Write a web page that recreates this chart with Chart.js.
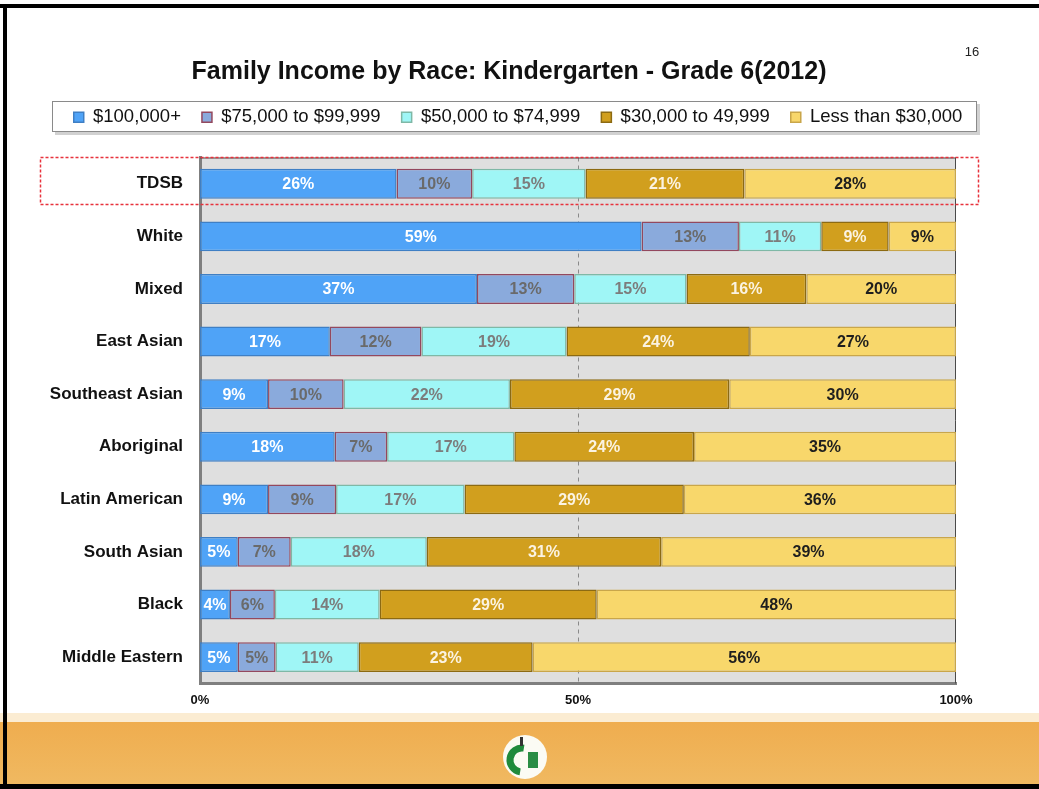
<!DOCTYPE html>
<html>
<head>
<meta charset="utf-8">
<script src="https://cdn.jsdelivr.net/npm/chart.js@4.4.1/dist/chart.umd.min.js"></script>
<style>
  html, body { margin: 0; padding: 0; background: #fff; }
  #wrap { position: relative; width: 1039px; height: 789px; }
</style>
</head>
<body>
<div id="wrap"><canvas id="incomeChart" width="1039" height="789"></canvas></div>
<script>
const groups = ['TDSB', 'White', 'Mixed', 'East Asian', 'Southeast Asian', 'Aboriginal',
  'Latin American', 'South Asian', 'Black', 'Middle Eastern'];
const bands = ['$100,000+', '$75,000 to $99,999', '$50,000 to $74,999', '$30,000 to 49,999', 'Less than $30,000'];

// percentages as printed on the bars, one array per income band
const over100k   = [26, 59, 37, 17,  9, 18,  9,  5,  4,  5];
const from75k    = [10, 13, 13, 12, 10,  7,  9,  7,  6,  5];
const from50k    = [15, 11, 15, 19, 22, 17, 17, 18, 14, 11];
const from30k    = [21,  9, 16, 24, 29, 24, 29, 31, 29, 23];
const under30k   = [28,  9, 20, 27, 30, 35, 36, 39, 48, 56];
const xTicks = [0, 50, 100];

const series = [over100k, from75k, from50k, from30k, under30k];
const fills   = ['#4fa3f7', '#8aaadc', '#9ff6f6', '#d19f1e', '#f8d76b'];
const borders = ['#3f7fc4', '#93485e', '#7fb8a6', '#8c6a12', '#c9a64a'];
const labelColors = ['#ffffff', '#6a6a6a', '#7c7c7c', '#fbf3e2', '#1e1e1e'];

// rows are drawn as a 100% stack
const rowSums = groups.map((g, i) => series.reduce((s, arr) => s + arr[i], 0));

function shiftDraw(box, dx, dy) {
  const draw = box.draw;
  box.draw = function () {
    this.ctx.save();
    this.ctx.translate(dx, dy);
    draw.apply(this, arguments);
    this.ctx.restore();
  };
}

const slideDecor = {
  id: 'slideDecor',
  afterInit(chart) {
    // title and legend sit centred on the slide, not on the plot
    shiftDraw(chart.titleBlock, 21, 0);
    shiftDraw(chart.legend, 30, -21);
  },
  beforeDraw(chart) {
    const c = chart.ctx;
    const W = chart.width, H = chart.height;
    c.save();
    c.fillStyle = '#fff';
    c.fillRect(0, 0, W, H);
    // footer band
    c.fillStyle = '#fbecd2';
    c.fillRect(0, 713, W, 10);
    const g = c.createLinearGradient(0, 722, 0, 785);
    g.addColorStop(0, '#efad4f');
    g.addColorStop(1, '#f0b961');
    c.fillStyle = g;
    c.fillRect(0, 722, W, 63);
    // logo
    c.fillStyle = '#fbfbf4';
    c.beginPath(); c.arc(525, 757, 22, 0, Math.PI * 2); c.fill();
    c.strokeStyle = '#1f8a3c'; c.lineWidth = 7;
    c.beginPath(); c.arc(522, 760, 12, Math.PI * 0.55, Math.PI * 1.55); c.stroke();
    c.fillStyle = '#2a8d45';
    c.fillRect(528, 752, 10, 16);
    c.fillStyle = '#333';
    c.fillRect(520, 737, 3, 9);
    // slide frame
    c.fillStyle = '#000';
    c.fillRect(0, 4, W, 4);
    c.fillRect(3, 4, 4, H - 4);
    c.fillRect(0, 784, W, 5);
    // page number
    c.fillStyle = '#222';
    c.font = '13px "Liberation Sans", Arial';
    c.textAlign = 'center';
    c.fillText('16', 972, 52);
    // legend box
    c.fillStyle = 'rgba(0,0,0,0.18)';
    c.fillRect(55, 104, 925, 31);
    c.fillStyle = '#fff';
    c.fillRect(52, 101, 925, 31);
    c.strokeStyle = '#8a8a8a'; c.lineWidth = 1;
    c.strokeRect(52.5, 101.5, 924, 30);
    // plot background
    const a = chart.chartArea;
    c.fillStyle = '#dfdfdf';
    c.fillRect(a.left, a.top, a.right - a.left, a.bottom - a.top);
    c.restore();
  },
  beforeDatasetsDraw(chart) {
    const c = chart.ctx, a = chart.chartArea, x = chart.scales.x;
    const mid = Math.round(x.getPixelForValue(50)) + 0.5;
    c.save();
    c.strokeStyle = '#8a8a8a'; c.lineWidth = 1; c.setLineDash([4, 4]);
    c.beginPath(); c.moveTo(mid, a.top); c.lineTo(mid, a.bottom); c.stroke();
    c.setLineDash([]);
    c.strokeStyle = '#4a4a4a';
    c.beginPath(); c.moveTo(a.left, a.top + 0.5); c.lineTo(a.right, a.top + 0.5); c.stroke();
    c.beginPath(); c.moveTo(a.right - 0.5, a.top); c.lineTo(a.right - 0.5, a.bottom); c.stroke();
    c.restore();
  },
  afterDatasetsDraw(chart) {
    const c = chart.ctx;
    c.save();
    c.font = 'bold 16px "Liberation Sans", Arial';
    c.textAlign = 'center';
    c.textBaseline = 'middle';
    chart.data.datasets.forEach((ds, di) => {
      chart.getDatasetMeta(di).data.forEach((bar, i) => {
        const cx = (bar.x + bar.base) / 2;
        c.fillStyle = labelColors[di];
        c.fillText(series[di][i] + '%', cx, bar.y + 1);
      });
    });
    // dashed highlight around the TDSB row
    const y0 = chart.scales.y.getPixelForValue(0);
    c.strokeStyle = '#e8323c'; c.lineWidth = 1.5; c.setLineDash([3, 2]);
    c.strokeRect(40.5, Math.round(y0) - 26.5, 938, 47);
    c.restore();
  }
};

new Chart(document.getElementById('incomeChart'), {
  type: 'bar',
  data: {
    labels: groups,
    datasets: bands.map((name, k) => ({
      label: name,
      data: series[k].map((v, i) => v / rowSums[i] * 100),
      backgroundColor: fills[k],
      borderColor: borders[k],
      borderWidth: 1.5,
      borderSkipped: false,
      barPercentage: 0.98,
      categoryPercentage: 0.58
    }))
  },
  options: {
    indexAxis: 'y',
    responsive: false,
    animation: false,
    layout: { padding: { left: 20, right: 83, top: 0, bottom: 80 } },
    plugins: {
      title: {
        display: true,
        text: 'Family Income by Race: Kindergarten - Grade 6(2012)',
        color: '#111',
        font: { family: '"Liberation Sans", Arial', size: 25, weight: 'bold' },
        padding: { top: 57, bottom: 21 }
      },
      legend: {
        position: 'top',
        labels: {
          color: '#111',
          boxWidth: 10,
          boxHeight: 10,
          padding: 21,
          font: { family: '"Liberation Sans", Arial', size: 18.5 }
        }
      },
      tooltip: { enabled: false }
    },
    scales: {
      x: {
        stacked: true,
        min: 0,
        max: 100,
        afterBuildTicks: s => { s.ticks = xTicks.map(v => ({ value: v })); },
        grid: { display: false },
        border: { display: true, color: '#7f7f7f', width: 3 },
        ticks: {
          color: '#111',
          font: { family: '"Liberation Sans", Arial', size: 13, weight: 'bold' },
          callback: v => v + '%',
          padding: 1
        }
      },
      y: {
        stacked: true,
        afterFit: s => { s.width = 180; },
        grid: { display: false },
        border: { display: true, color: '#7f7f7f', width: 3 },
        ticks: {
          color: '#111',
          padding: 9,
          font: { family: '"Liberation Sans", Arial', size: 17, weight: 'bold' }
        }
      }
    }
  },
  plugins: [slideDecor]
});
</script>
</body>
</html>
